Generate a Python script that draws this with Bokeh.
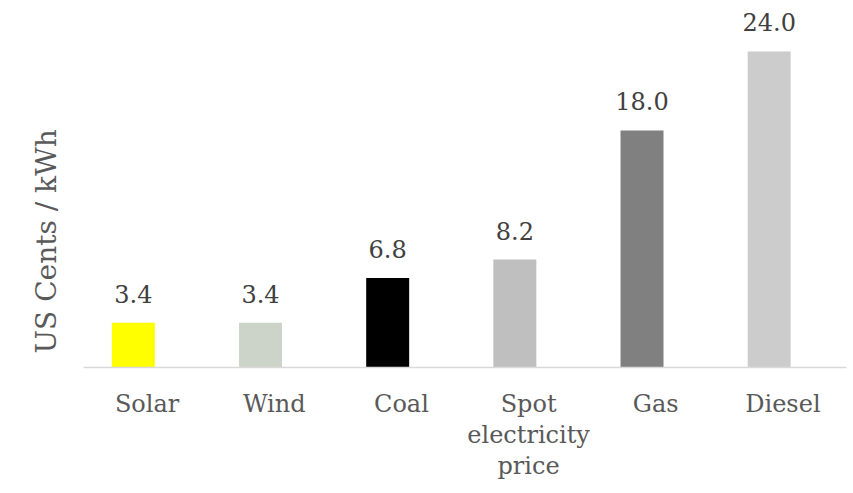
from bokeh.plotting import figure
from bokeh.models import ColumnDataSource, Range1d, FactorRange, Title
from bokeh.transform import dodge
from bokeh.core.properties import value
from bokeh.embed import file_html
from bokeh.resources import INLINE

categories = ["Solar", "Wind", "Coal", "Spot\nelectricity\nprice", "Gas", "Diesel"]
values = [3.4, 3.4, 6.8, 8.2, 18.0, 24.0]
colors = ["#FFFF00", "#CCD4CA", "#000000", "#BFBFBF", "#808080", "#CCCCCC"]
value_labels = [f"{v:.1f}" for v in values]
y_title = "US Cents / kWh"

FONT = "DejaVu Serif"

source = ColumnDataSource(dict(cat=categories, val=values, color=colors, lab=value_labels))

p = figure(width=853, height=493, output_backend="svg", toolbar_location=None,
           x_range=FactorRange(*categories, range_padding=0),
           y_range=Range1d(0, 27.87),
           min_border_left=83, min_border_right=7, min_border_top=0,
           min_border_bottom=126)
p.outline_line_color = None
p.background_fill_color = "white"
p.border_fill_color = "white"
p.xgrid.visible = False
p.ygrid.visible = False
p.yaxis.visible = False

p.vbar(x=dodge("cat", -0.108, range=p.x_range), top="val", width=0.338,
       color="color", line_color=None, source=source)

p.text(x=dodge("cat", -0.108, range=p.x_range), y="val", text="lab", source=source,
       text_align="center", text_baseline="alphabetic", y_offset=-29,
       text_font=value(FONT), text_font_size="24px", text_color="#404040")

ax = p.xaxis[0]
ax.axis_line_color = "#D9D9D9"
ax.axis_line_width = 1.3
ax.major_tick_line_color = None
ax.minor_tick_line_color = None
ax.major_tick_out = 0
ax.major_tick_in = 0
ax.major_label_standoff = 22
ax.major_label_text_font = FONT
ax.major_label_text_font_size = "24px"
ax.major_label_text_color = "#595959"
ax.major_label_text_line_height = 1.12

ttl = Title(text=y_title, align="left", offset=14, standoff=42,
            text_font=FONT, text_font_size="28px", text_font_style="normal",
            text_color="#595959", text_line_height=1.0)
p.add_layout(ttl, "left")

open("out.html", "w").write(file_html(p, INLINE))
